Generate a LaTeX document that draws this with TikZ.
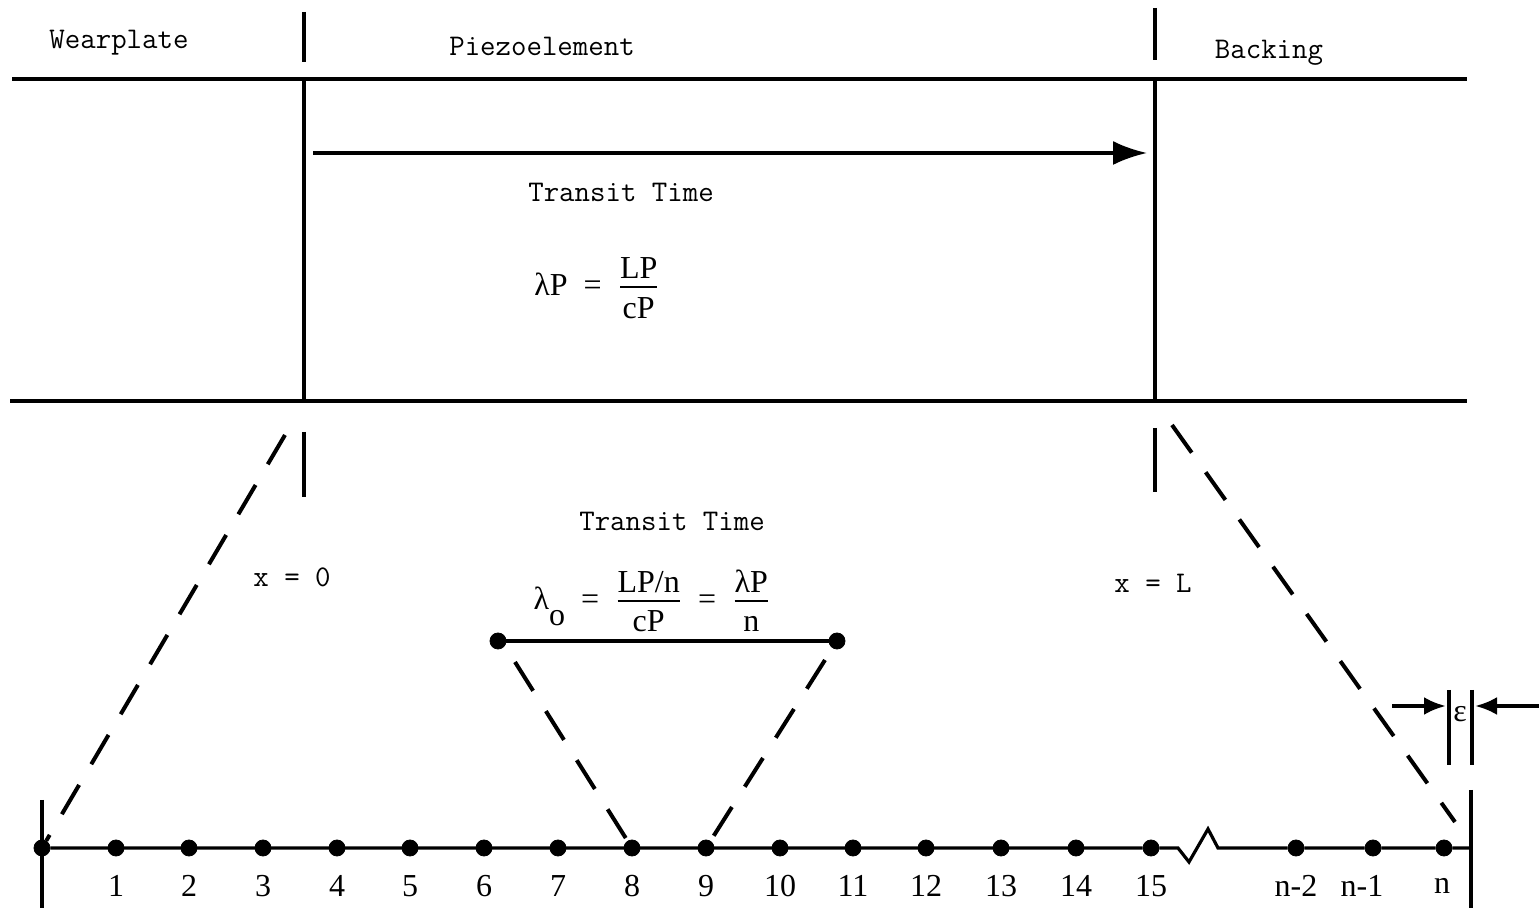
\documentclass[tikz,border=0pt]{standalone}
\usepackage{amsmath}
\usepackage{fontspec}
\setmainfont{Liberation Serif}
\usetikzlibrary{arrows.meta,positioning}
\newcommand{\fracst}[2]{$\genfrac{}{}{0.9pt}{1}{\mbox{#1\rule[-3pt]{0pt}{3pt}}}{\mbox{\rule{0pt}{14pt}#2}}$}
\tikzset{
  >={Latex[length=17pt,width=12pt]},
  every node/.style={font=\fontsize{16}{19}\selectfont},
  lay/.style={line width=1.6pt},
  dot/.style={draw, fill, circle, inner sep=0pt, minimum size=8pt},
  dsh/.style={line width=2pt, dash pattern=on 17pt off 12pt},
  tt/.style={font=\fontsize{15}{18}\selectfont\ttfamily},
  num/.style={font=\fontsize{16}{19}\selectfont},
  epsarrow/.style={line width=2pt, -{Latex[length=11pt,width=9pt]}},
}

\begin{document}
\begin{tikzpicture}[x=0.5pt, y=-0.5pt]
    \useasboundingbox (0,0) rectangle (1539,908);
    % layers
    \draw[lay] (12,79) -- (1467,79);
    \draw[lay] (10,401) -- (1467,401);
    \draw[lay] (304,12) -- (304,62);
    \draw[lay] (304,79) -- (304,401);
    \draw[lay] (1155,8) -- (1155,60);
    \draw[lay] (1155,79) -- (1155,401);
    \node[tt] (wear)  at (119,43)  {Wearplate};
    \node[tt] (piezo) at (542,46)  {Piezoelement};
    \node[tt] (back)  at (1269,53) {Backing};
    \coordinate (ta) at (313,153);
    \coordinate (tb) at (1147,153);
    \draw[lay, ->] (ta) -- (tb);
    \node[tt] (tt1) at (621,192) {Transit Time};
    \node (lamP) at (597,288) {λP\ \ =\ \ \fracst{LP}{cP}};
    % ticks
    \draw[lay] (304,432) -- (304,497);
    \draw[lay] (1155,428) -- (1155,492);
    \node[tt] (tt2) at (672,521) {Transit Time};
    \node[tt] (x0) at (292,577) {x = 0};
    \node[tt] (xL) at (1153,583) {x = L};
    \node (lamO) at (652,601) {λ\raisebox{-1.1ex}{o}\ \ =\ \ \fracst{LP/n}{cP}\ \ =\ \ \fracst{λP}{n}};
    \node[dot] (m1) at (498,641) {};
    \node[dot] (m2) at (837,641) {};
    \draw[lay] (m1) -- (m2);
    % grid points
    \draw[lay] (42,800) -- (42,908);
    \draw[lay] (1471,790) -- (1471,908);
    \node[dot] (d0) at (42,848) {};
    \foreach \x [count=\i] in {116,189,263,337,410,484,558,632,706,780,853,926,1001,1076,1151}
    {
      \node[dot] (d\i) at (\x,848) {};
      \node[num] at (\x,886) {\i};
    }
    \node[dot] (dn2) at (1296,848) {};
    \node[dot] (dn1) at (1373,848) {};
    \node[dot] (dn)  at (1444,848) {};
    \node[num] at (1296,886) {n-2};
    \node[num] at (1362,886) {n-1};
    \node[num] at (1442,886) {n};
    \coordinate (rb) at (1471,848);
    \draw[lay] (d0) -- (d15) -- (1178,848) -- (1189,862) -- (1208,829) -- (1218,848) -- (dn2) -- (dn1) -- (dn) -- (rb);
    % dashed projections
    \coordinate (wa) at (285,435);
    \coordinate (ba) at (1172,425);
    \coordinate (bb) at (1455,822);
    \draw[dsh] (wa) -- (d0);
    \draw[dsh] (ba) -- (bb);
    \coordinate (ma) at (515,662);
    \coordinate (mb) at (825,660);
    \draw[dsh] (ma) -- (d8);
    \draw[dsh] (mb) -- (d9);
    % epsilon
    \draw[lay] (1449,690) -- (1449,765);
    \draw[lay] (1472,690) -- (1472,765);
    \node (eps) at (1460,714) {ε};
    \coordinate (ea) at (1392,706);
    \coordinate (eb) at (1446,706);
    \coordinate (ec) at (1539,706);
    \coordinate (ed) at (1475,706);
    \draw[epsarrow] (ea) -- (eb);
    \draw[epsarrow] (ec) -- (ed);
\end{tikzpicture}
\end{document}
